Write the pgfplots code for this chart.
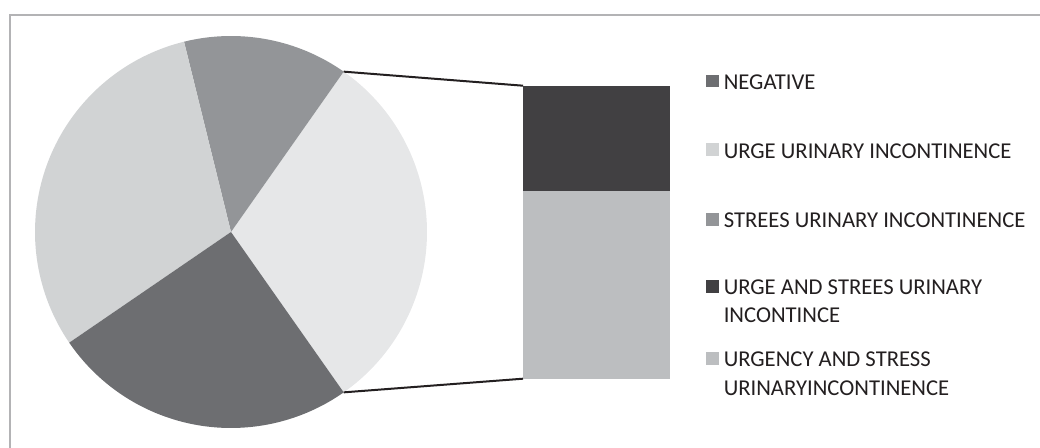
\documentclass[border=0pt]{standalone}
\usepackage{fontspec}
\setmainfont{Carlito}
\usepackage{pgfplots}
\pgfplotsset{compat=1.18}
\definecolor{cNeg}{HTML}{6D6E71}
\definecolor{cUrge}{HTML}{D1D3D4}
\definecolor{cStress}{HTML}{939598}
\definecolor{cBoth}{HTML}{414042}
\definecolor{cUrgency}{HTML}{BCBEC0}
\definecolor{cOther}{HTML}{E6E7E8}
\definecolor{cFrame}{HTML}{B3B3B5}
\definecolor{cLine}{HTML}{231F20}

% values (percent)
\def\vNeg{25.2}
\def\vUrge{30.7}
\def\vStress{13.6}
\def\vBoth{11.0}
\def\vUrgency{19.5}

\newcommand\legfont{\fontsize{17}{20}\selectfont}

\begin{document}
\begin{tikzpicture}
\pgfmathsetmacro\vOther{\vBoth+\vUrgency}
\pgfmathsetmacro\aA{-1.8*\vOther}
\pgfmathsetmacro\aB{1.8*\vOther}
\pgfmathsetmacro\aC{\aB+3.6*\vStress}
\pgfmathsetmacro\aD{\aC+3.6*\vUrge}
\pgfmathsetmacro\aE{\aD+3.6*\vNeg}

% frame
\begin{scope}[x=0.75pt,y=0.75pt]
\draw[cFrame, line width=1.6pt] (10,-10) -- (10,432) -- (1050,432);
\end{scope}

% pie
\begin{axis}[at={(173.25pt,161.25pt)}, anchor=center, x=0.75pt, y=0.75pt,
  xmin=-200, xmax=200, ymin=-200, ymax=200, hide axis, clip=false]
\fill[cOther]  (axis cs:0,0) -- ++(\aA:147pt) arc[start angle=\aA, end angle=\aB, radius=147pt] -- cycle;
\fill[cStress] (axis cs:0,0) -- ++(\aB:147pt) arc[start angle=\aB, end angle=\aC, radius=147pt] -- cycle;
\fill[cUrge]   (axis cs:0,0) -- ++(\aC:147pt) arc[start angle=\aC, end angle=\aD, radius=147pt] -- cycle;
\fill[cNeg]    (axis cs:0,0) -- ++(\aD:147pt) arc[start angle=\aD, end angle=\aE, radius=147pt] -- cycle;
\path (axis cs:0,0) ++(\aB:147pt) coordinate (pT);
\path (axis cs:0,0) ++(\aA:147pt) coordinate (pB);
\end{axis}

% bar of the "other" slice
\begin{axis}[at={(392.25pt,51.225pt)}, anchor=south west, scale only axis,
  width=110.25pt, height=219.75pt, xmin=-0.5, xmax=0.5, ymin=0, ymax=\vOther,
  ybar stacked, bar width=110.25pt, hide axis, clip=false]
\addplot[fill=cUrgency, draw=none] coordinates {(0,\vUrgency)};
\addplot[fill=cBoth, draw=none] coordinates {(0,\vBoth)};
\coordinate (bT) at (axis cs:-0.5,\vOther);
\coordinate (bB) at (axis cs:-0.5,0);
\end{axis}

\draw[cLine, line width=1.5pt] (pT) -- (bT);
\draw[cLine, line width=1.5pt] (pB) -- (bB);

% legend
\begin{scope}[x=0.75pt,y=0.75pt]
\fill[cNeg]      (706,360) rectangle (719,372);
\fill[cUrge]     (706,291) rectangle (719,304);
\fill[cStress]   (706,221) rectangle (719,234);
\fill[cBoth]     (706,154) rectangle (719,167);
\fill[cUrgency]  (706,82)  rectangle (719,95);
\begin{scope}[every node/.style={anchor=base west, inner sep=0pt, font=\legfont, text=cLine}]
\node at (723.5,357) {NEGATIVE};
\node at (723.5,288) {URGE URINARY INCONTINENCE};
\node at (723.5,219) {STREES URINARY INCONTINENCE};
\node at (723.5,152) {URGE AND STREES URINARY};
\node at (723.5,124) {INCONTINCE};
\node at (723.5,80)  {URGENCY AND STRESS};
\node at (723.5,52)  {URINARYINCONTINENCE};
\end{scope}
\pgfresetboundingbox
\useasboundingbox (0,0) rectangle (1040,447);
\end{scope}
\end{tikzpicture}
\end{document}
